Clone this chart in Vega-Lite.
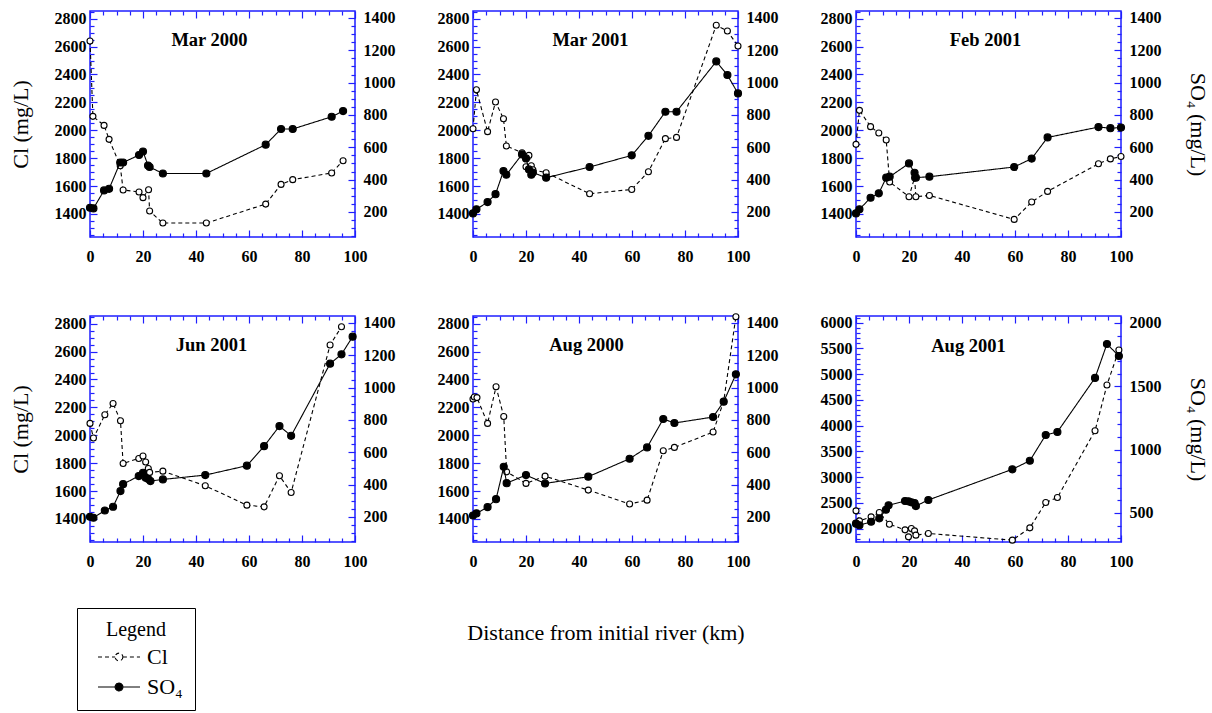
{
  "$schema": "https://vega.github.io/schema/vega-lite/v6.json",
  "padding": {"left": 8, "top": 2, "right": 5, "bottom": 5},
  "background": "white",
  "data": {"values": [
    {"p":"Mar 2000","s":"Cl","km":0,"v":2640},{"p":"Mar 2000","s":"Cl","km":1.1,"v":2100},{"p":"Mar 2000","s":"Cl","km":5.3,"v":2035},{"p":"Mar 2000","s":"Cl","km":7.2,"v":1935},{"p":"Mar 2000","s":"Cl","km":11.4,"v":1746},{"p":"Mar 2000","s":"Cl","km":12.5,"v":1572},{"p":"Mar 2000","s":"Cl","km":18.5,"v":1558},{"p":"Mar 2000","s":"Cl","km":20,"v":1517},{"p":"Mar 2000","s":"Cl","km":22.1,"v":1574},{"p":"Mar 2000","s":"Cl","km":22.5,"v":1421},{"p":"Mar 2000","s":"Cl","km":27.5,"v":1335},{"p":"Mar 2000","s":"Cl","km":43.9,"v":1335},{"p":"Mar 2000","s":"Cl","km":66.3,"v":1471},{"p":"Mar 2000","s":"Cl","km":72.1,"v":1612},{"p":"Mar 2000","s":"Cl","km":76.5,"v":1646},{"p":"Mar 2000","s":"Cl","km":91.2,"v":1694},{"p":"Mar 2000","s":"Cl","km":95.5,"v":1782},
    {"p":"Mar 2000","s":"SO₄","km":0,"v":226},{"p":"Mar 2000","s":"SO₄","km":1.3,"v":222},{"p":"Mar 2000","s":"SO₄","km":5.3,"v":333},{"p":"Mar 2000","s":"SO₄","km":7.2,"v":343},{"p":"Mar 2000","s":"SO₄","km":11.4,"v":506},{"p":"Mar 2000","s":"SO₄","km":12.5,"v":506},{"p":"Mar 2000","s":"SO₄","km":18.5,"v":552},{"p":"Mar 2000","s":"SO₄","km":20,"v":574},{"p":"Mar 2000","s":"SO₄","km":21.9,"v":487},{"p":"Mar 2000","s":"SO₄","km":22.5,"v":478},{"p":"Mar 2000","s":"SO₄","km":27.5,"v":438},{"p":"Mar 2000","s":"SO₄","km":43.9,"v":438},{"p":"Mar 2000","s":"SO₄","km":66.3,"v":616},{"p":"Mar 2000","s":"SO₄","km":72.1,"v":713},{"p":"Mar 2000","s":"SO₄","km":76.5,"v":713},{"p":"Mar 2000","s":"SO₄","km":91.2,"v":789},{"p":"Mar 2000","s":"SO₄","km":95.5,"v":824},
    {"p":"Mar 2001","s":"Cl","km":0,"v":2011},{"p":"Mar 2001","s":"Cl","km":1.3,"v":2290},{"p":"Mar 2001","s":"Cl","km":5.5,"v":1990},{"p":"Mar 2001","s":"Cl","km":8.5,"v":2203},{"p":"Mar 2001","s":"Cl","km":11.5,"v":2083},{"p":"Mar 2001","s":"Cl","km":12.6,"v":1887},{"p":"Mar 2001","s":"Cl","km":18.5,"v":1839},{"p":"Mar 2001","s":"Cl","km":20,"v":1739},{"p":"Mar 2001","s":"Cl","km":21.1,"v":1820},{"p":"Mar 2001","s":"Cl","km":22,"v":1746},{"p":"Mar 2001","s":"Cl","km":22.6,"v":1717},{"p":"Mar 2001","s":"Cl","km":27.6,"v":1696},{"p":"Mar 2001","s":"Cl","km":44,"v":1545},{"p":"Mar 2001","s":"Cl","km":59.9,"v":1576},{"p":"Mar 2001","s":"Cl","km":66.2,"v":1703},{"p":"Mar 2001","s":"Cl","km":72.6,"v":1940},{"p":"Mar 2001","s":"Cl","km":76.8,"v":1949},{"p":"Mar 2001","s":"Cl","km":91.8,"v":2753},{"p":"Mar 2001","s":"Cl","km":96,"v":2712},{"p":"Mar 2001","s":"Cl","km":100,"v":2604},
    {"p":"Mar 2001","s":"SO₄","km":0,"v":191},{"p":"Mar 2001","s":"SO₄","km":1.3,"v":216},{"p":"Mar 2001","s":"SO₄","km":5.5,"v":261},{"p":"Mar 2001","s":"SO₄","km":8.5,"v":310},{"p":"Mar 2001","s":"SO₄","km":11.5,"v":453},{"p":"Mar 2001","s":"SO₄","km":12.6,"v":430},{"p":"Mar 2001","s":"SO₄","km":18.5,"v":556},{"p":"Mar 2001","s":"SO₄","km":20,"v":531},{"p":"Mar 2001","s":"SO₄","km":21.1,"v":463},{"p":"Mar 2001","s":"SO₄","km":22,"v":430},{"p":"Mar 2001","s":"SO₄","km":22.6,"v":444},{"p":"Mar 2001","s":"SO₄","km":27.6,"v":412},{"p":"Mar 2001","s":"SO₄","km":44,"v":478},{"p":"Mar 2001","s":"SO₄","km":59.9,"v":550},{"p":"Mar 2001","s":"SO₄","km":66.2,"v":671},{"p":"Mar 2001","s":"SO₄","km":72.6,"v":820},{"p":"Mar 2001","s":"SO₄","km":76.8,"v":820},{"p":"Mar 2001","s":"SO₄","km":91.8,"v":1131},{"p":"Mar 2001","s":"SO₄","km":96,"v":1047},{"p":"Mar 2001","s":"SO₄","km":100,"v":933},
    {"p":"Feb 2001","s":"Cl","km":0,"v":1899},{"p":"Feb 2001","s":"Cl","km":1.3,"v":2143},{"p":"Feb 2001","s":"Cl","km":5.5,"v":2026},{"p":"Feb 2001","s":"Cl","km":8.6,"v":1980},{"p":"Feb 2001","s":"Cl","km":11.4,"v":1930},{"p":"Feb 2001","s":"Cl","km":12.7,"v":1629},{"p":"Feb 2001","s":"Cl","km":20,"v":1524},{"p":"Feb 2001","s":"Cl","km":22.1,"v":1660},{"p":"Feb 2001","s":"Cl","km":22.6,"v":1524},{"p":"Feb 2001","s":"Cl","km":27.7,"v":1533},{"p":"Feb 2001","s":"Cl","km":59.7,"v":1361},{"p":"Feb 2001","s":"Cl","km":66.3,"v":1486},{"p":"Feb 2001","s":"Cl","km":72.3,"v":1562},{"p":"Feb 2001","s":"Cl","km":91.5,"v":1760},{"p":"Feb 2001","s":"Cl","km":96,"v":1795},{"p":"Feb 2001","s":"Cl","km":100,"v":1812},
    {"p":"Feb 2001","s":"SO₄","km":0,"v":191},{"p":"Feb 2001","s":"SO₄","km":1.3,"v":216},{"p":"Feb 2001","s":"SO₄","km":5.5,"v":288},{"p":"Feb 2001","s":"SO₄","km":8.6,"v":315},{"p":"Feb 2001","s":"SO₄","km":11.4,"v":412},{"p":"Feb 2001","s":"SO₄","km":12.7,"v":418},{"p":"Feb 2001","s":"SO₄","km":20,"v":500},{"p":"Feb 2001","s":"SO₄","km":22.1,"v":442},{"p":"Feb 2001","s":"SO₄","km":22.6,"v":412},{"p":"Feb 2001","s":"SO₄","km":27.7,"v":418},{"p":"Feb 2001","s":"SO₄","km":59.7,"v":478},{"p":"Feb 2001","s":"SO₄","km":66.3,"v":530},{"p":"Feb 2001","s":"SO₄","km":72.3,"v":661},{"p":"Feb 2001","s":"SO₄","km":91.5,"v":725},{"p":"Feb 2001","s":"SO₄","km":96,"v":718},{"p":"Feb 2001","s":"SO₄","km":100,"v":722},
    {"p":"Jun 2001","s":"Cl","km":0,"v":2085},{"p":"Jun 2001","s":"Cl","km":1.3,"v":1980},{"p":"Jun 2001","s":"Cl","km":5.6,"v":2147},{"p":"Jun 2001","s":"Cl","km":8.7,"v":2228},{"p":"Jun 2001","s":"Cl","km":11.5,"v":2104},{"p":"Jun 2001","s":"Cl","km":12.5,"v":1798},{"p":"Jun 2001","s":"Cl","km":18.4,"v":1834},{"p":"Jun 2001","s":"Cl","km":20,"v":1851},{"p":"Jun 2001","s":"Cl","km":21,"v":1808},{"p":"Jun 2001","s":"Cl","km":22,"v":1762},{"p":"Jun 2001","s":"Cl","km":22.5,"v":1734},{"p":"Jun 2001","s":"Cl","km":27.5,"v":1743},{"p":"Jun 2001","s":"Cl","km":43.5,"v":1638},{"p":"Jun 2001","s":"Cl","km":59.2,"v":1499},{"p":"Jun 2001","s":"Cl","km":65.7,"v":1487},{"p":"Jun 2001","s":"Cl","km":71.5,"v":1710},{"p":"Jun 2001","s":"Cl","km":75.9,"v":1590},{"p":"Jun 2001","s":"Cl","km":90.6,"v":2647},{"p":"Jun 2001","s":"Cl","km":94.9,"v":2778},
    {"p":"Jun 2001","s":"SO₄","km":0,"v":201},{"p":"Jun 2001","s":"SO₄","km":1.3,"v":195},{"p":"Jun 2001","s":"SO₄","km":5.6,"v":240},{"p":"Jun 2001","s":"SO₄","km":8.7,"v":263},{"p":"Jun 2001","s":"SO₄","km":11.5,"v":360},{"p":"Jun 2001","s":"SO₄","km":12.5,"v":403},{"p":"Jun 2001","s":"SO₄","km":18.4,"v":453},{"p":"Jun 2001","s":"SO₄","km":20,"v":473},{"p":"Jun 2001","s":"SO₄","km":21,"v":442},{"p":"Jun 2001","s":"SO₄","km":22,"v":434},{"p":"Jun 2001","s":"SO₄","km":22.8,"v":422},{"p":"Jun 2001","s":"SO₄","km":27.5,"v":432},{"p":"Jun 2001","s":"SO₄","km":43.5,"v":459},{"p":"Jun 2001","s":"SO₄","km":59.2,"v":517},{"p":"Jun 2001","s":"SO₄","km":65.7,"v":638},{"p":"Jun 2001","s":"SO₄","km":71.5,"v":762},{"p":"Jun 2001","s":"SO₄","km":75.9,"v":702},{"p":"Jun 2001","s":"SO₄","km":90.6,"v":1148},{"p":"Jun 2001","s":"SO₄","km":94.9,"v":1206},{"p":"Jun 2001","s":"SO₄","km":99.1,"v":1315},
    {"p":"Aug 2000","s":"Cl","km":0,"v":2260},{"p":"Aug 2000","s":"Cl","km":0.5,"v":2274},{"p":"Aug 2000","s":"Cl","km":1.5,"v":2270},{"p":"Aug 2000","s":"Cl","km":5.5,"v":2085},{"p":"Aug 2000","s":"Cl","km":8.7,"v":2348},{"p":"Aug 2000","s":"Cl","km":11.6,"v":2135},{"p":"Aug 2000","s":"Cl","km":12.7,"v":1738},{"p":"Aug 2000","s":"Cl","km":20,"v":1655},{"p":"Aug 2000","s":"Cl","km":27.2,"v":1707},{"p":"Aug 2000","s":"Cl","km":43.5,"v":1607},{"p":"Aug 2000","s":"Cl","km":59.1,"v":1507},{"p":"Aug 2000","s":"Cl","km":65.7,"v":1535},{"p":"Aug 2000","s":"Cl","km":71.8,"v":1889},{"p":"Aug 2000","s":"Cl","km":76,"v":1913},{"p":"Aug 2000","s":"Cl","km":90.6,"v":2023},{"p":"Aug 2000","s":"Cl","km":94.6,"v":2243},{"p":"Aug 2000","s":"Cl","km":99.2,"v":2850},
    {"p":"Aug 2000","s":"SO₄","km":0,"v":209},{"p":"Aug 2000","s":"SO₄","km":1.3,"v":222},{"p":"Aug 2000","s":"SO₄","km":5.5,"v":261},{"p":"Aug 2000","s":"SO₄","km":8.7,"v":310},{"p":"Aug 2000","s":"SO₄","km":11.6,"v":510},{"p":"Aug 2000","s":"SO₄","km":12.7,"v":409},{"p":"Aug 2000","s":"SO₄","km":20,"v":459},{"p":"Aug 2000","s":"SO₄","km":27.2,"v":407},{"p":"Aug 2000","s":"SO₄","km":43.5,"v":449},{"p":"Aug 2000","s":"SO₄","km":59.1,"v":560},{"p":"Aug 2000","s":"SO₄","km":65.7,"v":630},{"p":"Aug 2000","s":"SO₄","km":71.8,"v":806},{"p":"Aug 2000","s":"SO₄","km":76,"v":781},{"p":"Aug 2000","s":"SO₄","km":90.6,"v":818},{"p":"Aug 2000","s":"SO₄","km":94.6,"v":913},{"p":"Aug 2000","s":"SO₄","km":99.2,"v":1082},
    {"p":"Aug 2001","s":"Cl","km":0,"v":2345},{"p":"Aug 2001","s":"Cl","km":1.3,"v":2151},{"p":"Aug 2001","s":"Cl","km":5.7,"v":2229},{"p":"Aug 2001","s":"Cl","km":8.8,"v":2313},{"p":"Aug 2001","s":"Cl","km":12.6,"v":2086},{"p":"Aug 2001","s":"Cl","km":18.5,"v":1976},{"p":"Aug 2001","s":"Cl","km":19.8,"v":1840},{"p":"Aug 2001","s":"Cl","km":20.9,"v":2002},{"p":"Aug 2001","s":"Cl","km":22.1,"v":1957},{"p":"Aug 2001","s":"Cl","km":22.6,"v":1873},{"p":"Aug 2001","s":"Cl","km":27.3,"v":1905},{"p":"Aug 2001","s":"Cl","km":59,"v":1776},{"p":"Aug 2001","s":"Cl","km":65.6,"v":2015},{"p":"Aug 2001","s":"Cl","km":71.6,"v":2507},{"p":"Aug 2001","s":"Cl","km":76,"v":2604},{"p":"Aug 2001","s":"Cl","km":90.2,"v":3900},{"p":"Aug 2001","s":"Cl","km":94.7,"v":4790},{"p":"Aug 2001","s":"Cl","km":99.2,"v":5470},
    {"p":"Aug 2001","s":"SO₄","km":0,"v":415},{"p":"Aug 2001","s":"SO₄","km":1.3,"v":402},{"p":"Aug 2001","s":"SO₄","km":5.7,"v":430},{"p":"Aug 2001","s":"SO₄","km":8.8,"v":457},{"p":"Aug 2001","s":"SO₄","km":11.3,"v":525},{"p":"Aug 2001","s":"SO₄","km":12.3,"v":560},{"p":"Aug 2001","s":"SO₄","km":18.5,"v":594},{"p":"Aug 2001","s":"SO₄","km":19.8,"v":591},{"p":"Aug 2001","s":"SO₄","km":20.9,"v":583},{"p":"Aug 2001","s":"SO₄","km":22.1,"v":578},{"p":"Aug 2001","s":"SO₄","km":22.6,"v":554},{"p":"Aug 2001","s":"SO₄","km":27.3,"v":602},{"p":"Aug 2001","s":"SO₄","km":59,"v":844},{"p":"Aug 2001","s":"SO₄","km":65.6,"v":912},{"p":"Aug 2001","s":"SO₄","km":71.6,"v":1115},{"p":"Aug 2001","s":"SO₄","km":76,"v":1139},{"p":"Aug 2001","s":"SO₄","km":90.2,"v":1566},{"p":"Aug 2001","s":"SO₄","km":94.7,"v":1834},{"p":"Aug 2001","s":"SO₄","km":99.2,"v":1739}
  ]},
  "columns": 3,
  "spacing": {"row": 79, "column": 118},
  "bounds": "flush",
  "concat": [
    {
      "width": 265, "height": 226,
      "title": {"text": "Mar 2000", "dx": -13},
      "transform": [{"filter": "datum.p === 'Mar 2000'"}],
      "layer": [
        {"transform": [{"filter": "datum.s === 'Cl'"}], "mark": {"type": "line"},
         "encoding": {
           "x": {"field": "km", "type": "quantitative", "scale": {"domain": [0, 100], "nice": false}, "axis": {"orient": "bottom", "title": null, "format": "d", "values": [0,5,10,15,20,25,30,35,40,45,50,55,60,65,70,75,80,85,90,95,100], "labelExpr": "datum.value % 20 === 0 ? datum.label : ''", "tickSize": {"condition": {"test": "datum.value % 20 === 0", "value": -7}, "value": -4}, "labelPadding": 18}},
           "y": {"field": "v", "type": "quantitative", "scale": {"domain": [1235, 2855], "nice": false, "zero": false}, "axis": {"orient": "left", "title": "Cl (mg/L)", "titlePadding": 22, "format": "d", "values": [1250,1300,1350,1400,1450,1500,1550,1600,1650,1700,1750,1800,1850,1900,1950,2000,2050,2100,2150,2200,2250,2300,2350,2400,2450,2500,2550,2600,2650,2700,2750,2800,2850], "labelExpr": "datum.value % 200 === 0 ? datum.label : ''", "tickSize": {"condition": {"test": "datum.value % 200 === 0", "value": -7}, "value": -4}, "labelPadding": 11}},
           "strokeDash": {"field": "s", "type": "nominal", "scale": {"domain": ["Cl", "SO₄"], "range": [[4, 3], [1, 0]]}}
         }},
        {"transform": [{"filter": "datum.s === 'Cl'"}], "mark": {"type": "point", "filled": true, "size": 36, "stroke": "black", "strokeWidth": 1.1, "opacity": 1},
         "encoding": {
           "x": {"field": "km", "type": "quantitative", "scale": {"domain": [0, 100], "nice": false}, "axis": null},
           "y": {"field": "v", "type": "quantitative", "scale": {"domain": [1235, 2855], "nice": false, "zero": false}, "axis": null},
           "fill": {"field": "s", "type": "nominal", "scale": {"domain": ["Cl", "SO₄"], "range": ["white", "black"]}}
         }},
        {"transform": [{"filter": "datum.s === 'SO₄'"}], "mark": {"type": "line"},
         "encoding": {
           "x": {"field": "km", "type": "quantitative", "scale": {"domain": [0, 100], "nice": false}, "axis": {"orient": "top", "title": null, "labels": false, "values": [0,5,10,15,20,25,30,35,40,45,50,55,60,65,70,75,80,85,90,95,100], "tickSize": {"condition": {"test": "datum.value % 20 === 0", "value": -7}, "value": -4}}},
           "y": {"field": "v", "type": "quantitative", "scale": {"domain": [45, 1443], "nice": false, "zero": false}, "axis": {"orient": "right", "title": null, "format": "d", "values": [50,100,150,200,250,300,350,400,450,500,550,600,650,700,750,800,850,900,950,1000,1050,1100,1150,1200,1250,1300,1350,1400], "labelExpr": "datum.value % 200 === 0 ? datum.label : ''", "tickSize": {"condition": {"test": "datum.value % 200 === 0", "value": -7}, "value": -4}, "labelPadding": 15}},
           "strokeDash": {"field": "s", "type": "nominal", "scale": {"domain": ["Cl", "SO₄"], "range": [[4, 3], [1, 0]]}}
         }},
        {"transform": [{"filter": "datum.s === 'SO₄'"}], "mark": {"type": "point", "filled": true, "size": 50, "stroke": "black", "strokeWidth": 1.1, "opacity": 1},
         "encoding": {
           "x": {"field": "km", "type": "quantitative", "scale": {"domain": [0, 100], "nice": false}, "axis": null},
           "y": {"field": "v", "type": "quantitative", "scale": {"domain": [45, 1443], "nice": false, "zero": false}, "axis": null},
           "fill": {"field": "s", "type": "nominal", "scale": {"domain": ["Cl", "SO₄"], "range": ["white", "black"]}}
         }}
      ],
      "resolve": {"scale": {"y": "independent"}, "axis": {"x": "independent", "y": "independent"}}
    },
    {
      "width": 265, "height": 226,
      "title": {"text": "Mar 2001", "dx": -15},
      "transform": [{"filter": "datum.p === 'Mar 2001'"}],
      "layer": [
        {"transform": [{"filter": "datum.s === 'Cl'"}], "mark": {"type": "line"},
         "encoding": {
           "x": {"field": "km", "type": "quantitative", "scale": {"domain": [0, 100], "nice": false}, "axis": {"orient": "bottom", "title": null, "format": "d", "values": [0,5,10,15,20,25,30,35,40,45,50,55,60,65,70,75,80,85,90,95,100], "labelExpr": "datum.value % 20 === 0 ? datum.label : ''", "tickSize": {"condition": {"test": "datum.value % 20 === 0", "value": -7}, "value": -4}, "labelPadding": 18}},
           "y": {"field": "v", "type": "quantitative", "scale": {"domain": [1235, 2855], "nice": false, "zero": false}, "axis": {"orient": "left", "title": null, "format": "d", "values": [1250,1300,1350,1400,1450,1500,1550,1600,1650,1700,1750,1800,1850,1900,1950,2000,2050,2100,2150,2200,2250,2300,2350,2400,2450,2500,2550,2600,2650,2700,2750,2800,2850], "labelExpr": "datum.value % 200 === 0 ? datum.label : ''", "tickSize": {"condition": {"test": "datum.value % 200 === 0", "value": -7}, "value": -4}, "labelPadding": 11}},
           "strokeDash": {"field": "s", "type": "nominal", "scale": {"domain": ["Cl", "SO₄"], "range": [[4, 3], [1, 0]]}}
         }},
        {"transform": [{"filter": "datum.s === 'Cl'"}], "mark": {"type": "point", "filled": true, "size": 36, "stroke": "black", "strokeWidth": 1.1, "opacity": 1},
         "encoding": {
           "x": {"field": "km", "type": "quantitative", "scale": {"domain": [0, 100], "nice": false}, "axis": null},
           "y": {"field": "v", "type": "quantitative", "scale": {"domain": [1235, 2855], "nice": false, "zero": false}, "axis": null},
           "fill": {"field": "s", "type": "nominal", "scale": {"domain": ["Cl", "SO₄"], "range": ["white", "black"]}}
         }},
        {"transform": [{"filter": "datum.s === 'SO₄'"}], "mark": {"type": "line"},
         "encoding": {
           "x": {"field": "km", "type": "quantitative", "scale": {"domain": [0, 100], "nice": false}, "axis": {"orient": "top", "title": null, "labels": false, "values": [0,5,10,15,20,25,30,35,40,45,50,55,60,65,70,75,80,85,90,95,100], "tickSize": {"condition": {"test": "datum.value % 20 === 0", "value": -7}, "value": -4}}},
           "y": {"field": "v", "type": "quantitative", "scale": {"domain": [45, 1443], "nice": false, "zero": false}, "axis": {"orient": "right", "title": null, "format": "d", "values": [50,100,150,200,250,300,350,400,450,500,550,600,650,700,750,800,850,900,950,1000,1050,1100,1150,1200,1250,1300,1350,1400], "labelExpr": "datum.value % 200 === 0 ? datum.label : ''", "tickSize": {"condition": {"test": "datum.value % 200 === 0", "value": -7}, "value": -4}, "labelPadding": 15}},
           "strokeDash": {"field": "s", "type": "nominal", "scale": {"domain": ["Cl", "SO₄"], "range": [[4, 3], [1, 0]]}}
         }},
        {"transform": [{"filter": "datum.s === 'SO₄'"}], "mark": {"type": "point", "filled": true, "size": 50, "stroke": "black", "strokeWidth": 1.1, "opacity": 1},
         "encoding": {
           "x": {"field": "km", "type": "quantitative", "scale": {"domain": [0, 100], "nice": false}, "axis": null},
           "y": {"field": "v", "type": "quantitative", "scale": {"domain": [45, 1443], "nice": false, "zero": false}, "axis": null},
           "fill": {"field": "s", "type": "nominal", "scale": {"domain": ["Cl", "SO₄"], "range": ["white", "black"]}}
         }}
      ],
      "resolve": {"scale": {"y": "independent"}, "axis": {"x": "independent", "y": "independent"}}
    },
    {
      "width": 265, "height": 226,
      "title": {"text": "Feb 2001", "dx": -3},
      "transform": [{"filter": "datum.p === 'Feb 2001'"}],
      "layer": [
        {"transform": [{"filter": "datum.s === 'Cl'"}], "mark": {"type": "line"},
         "encoding": {
           "x": {"field": "km", "type": "quantitative", "scale": {"domain": [0, 100], "nice": false}, "axis": {"orient": "bottom", "title": null, "format": "d", "values": [0,5,10,15,20,25,30,35,40,45,50,55,60,65,70,75,80,85,90,95,100], "labelExpr": "datum.value % 20 === 0 ? datum.label : ''", "tickSize": {"condition": {"test": "datum.value % 20 === 0", "value": -7}, "value": -4}, "labelPadding": 18}},
           "y": {"field": "v", "type": "quantitative", "scale": {"domain": [1235, 2855], "nice": false, "zero": false}, "axis": {"orient": "left", "title": null, "format": "d", "values": [1250,1300,1350,1400,1450,1500,1550,1600,1650,1700,1750,1800,1850,1900,1950,2000,2050,2100,2150,2200,2250,2300,2350,2400,2450,2500,2550,2600,2650,2700,2750,2800,2850], "labelExpr": "datum.value % 200 === 0 ? datum.label : ''", "tickSize": {"condition": {"test": "datum.value % 200 === 0", "value": -7}, "value": -4}, "labelPadding": 11}},
           "strokeDash": {"field": "s", "type": "nominal", "scale": {"domain": ["Cl", "SO₄"], "range": [[4, 3], [1, 0]]}}
         }},
        {"transform": [{"filter": "datum.s === 'Cl'"}], "mark": {"type": "point", "filled": true, "size": 36, "stroke": "black", "strokeWidth": 1.1, "opacity": 1},
         "encoding": {
           "x": {"field": "km", "type": "quantitative", "scale": {"domain": [0, 100], "nice": false}, "axis": null},
           "y": {"field": "v", "type": "quantitative", "scale": {"domain": [1235, 2855], "nice": false, "zero": false}, "axis": null},
           "fill": {"field": "s", "type": "nominal", "scale": {"domain": ["Cl", "SO₄"], "range": ["white", "black"]}}
         }},
        {"transform": [{"filter": "datum.s === 'SO₄'"}], "mark": {"type": "line"},
         "encoding": {
           "x": {"field": "km", "type": "quantitative", "scale": {"domain": [0, 100], "nice": false}, "axis": {"orient": "top", "title": null, "labels": false, "values": [0,5,10,15,20,25,30,35,40,45,50,55,60,65,70,75,80,85,90,95,100], "tickSize": {"condition": {"test": "datum.value % 20 === 0", "value": -7}, "value": -4}}},
           "y": {"field": "v", "type": "quantitative", "scale": {"domain": [45, 1443], "nice": false, "zero": false}, "axis": {"orient": "right", "title": "SO₄ (mg/L)", "titlePadding": 24, "format": "d", "values": [50,100,150,200,250,300,350,400,450,500,550,600,650,700,750,800,850,900,950,1000,1050,1100,1150,1200,1250,1300,1350,1400], "labelExpr": "datum.value % 200 === 0 ? datum.label : ''", "tickSize": {"condition": {"test": "datum.value % 200 === 0", "value": -7}, "value": -4}, "labelPadding": 15}},
           "strokeDash": {"field": "s", "type": "nominal", "scale": {"domain": ["Cl", "SO₄"], "range": [[4, 3], [1, 0]]}}
         }},
        {"transform": [{"filter": "datum.s === 'SO₄'"}], "mark": {"type": "point", "filled": true, "size": 50, "stroke": "black", "strokeWidth": 1.1, "opacity": 1},
         "encoding": {
           "x": {"field": "km", "type": "quantitative", "scale": {"domain": [0, 100], "nice": false}, "axis": null},
           "y": {"field": "v", "type": "quantitative", "scale": {"domain": [45, 1443], "nice": false, "zero": false}, "axis": null},
           "fill": {"field": "s", "type": "nominal", "scale": {"domain": ["Cl", "SO₄"], "range": ["white", "black"]}}
         }}
      ],
      "resolve": {"scale": {"y": "independent"}, "axis": {"x": "independent", "y": "independent"}}
    },
    {
      "width": 265, "height": 226,
      "title": {"text": "Jun 2001", "dx": -11},
      "transform": [{"filter": "datum.p === 'Jun 2001'"}],
      "layer": [
        {"transform": [{"filter": "datum.s === 'Cl'"}], "mark": {"type": "line"},
         "encoding": {
           "x": {"field": "km", "type": "quantitative", "scale": {"domain": [0, 100], "nice": false}, "axis": {"orient": "bottom", "title": null, "format": "d", "values": [0,5,10,15,20,25,30,35,40,45,50,55,60,65,70,75,80,85,90,95,100], "labelExpr": "datum.value % 20 === 0 ? datum.label : ''", "tickSize": {"condition": {"test": "datum.value % 20 === 0", "value": -7}, "value": -4}, "labelPadding": 18}},
           "y": {"field": "v", "type": "quantitative", "scale": {"domain": [1235, 2855], "nice": false, "zero": false}, "axis": {"orient": "left", "title": "Cl (mg/L)", "titlePadding": 22, "format": "d", "values": [1250,1300,1350,1400,1450,1500,1550,1600,1650,1700,1750,1800,1850,1900,1950,2000,2050,2100,2150,2200,2250,2300,2350,2400,2450,2500,2550,2600,2650,2700,2750,2800,2850], "labelExpr": "datum.value % 200 === 0 ? datum.label : ''", "tickSize": {"condition": {"test": "datum.value % 200 === 0", "value": -7}, "value": -4}, "labelPadding": 11}},
           "strokeDash": {"field": "s", "type": "nominal", "title": "Legend", "scale": {"domain": ["Cl", "SO₄"], "range": [[4, 3], [1, 0]]},
             "legend": {"orient": "none", "legendX": -13, "legendY": 597, "direction": "vertical", "padding": 12, "strokeColor": "black", "titleFont": "Liberation Serif", "titleFontSize": 20, "titleFontWeight": "normal", "titleColor": "black", "titlePadding": 6, "titleAnchor": "middle", "labelFont": "Liberation Serif", "labelFontSize": 22, "labelColor": "black", "labelOffset": 17, "symbolOffset": 19, "symbolSize": 144, "symbolStrokeWidth": 1.3, "symbolStrokeColor": "black", "rowPadding": 8, "symbolType": "M-3.5,0H-0.65M0.65,0H3.5M0.65,0A0.65,0.65 0 1,1 -0.65,0A0.65,0.65 0 1,1 0.65,0Z"}}
         }},
        {"transform": [{"filter": "datum.s === 'Cl'"}], "mark": {"type": "point", "filled": true, "size": 36, "stroke": "black", "strokeWidth": 1.1, "opacity": 1},
         "encoding": {
           "x": {"field": "km", "type": "quantitative", "scale": {"domain": [0, 100], "nice": false}, "axis": null},
           "y": {"field": "v", "type": "quantitative", "scale": {"domain": [1235, 2855], "nice": false, "zero": false}, "axis": null},
           "fill": {"field": "s", "type": "nominal", "title": "Legend", "scale": {"domain": ["Cl", "SO₄"], "range": ["white", "black"]},
             "legend": {"orient": "none", "legendX": -13, "legendY": 597, "direction": "vertical", "padding": 12, "strokeColor": "black", "titleFont": "Liberation Serif", "titleFontSize": 20, "titleFontWeight": "normal", "titleColor": "black", "titlePadding": 6, "titleAnchor": "middle", "labelFont": "Liberation Serif", "labelFontSize": 22, "labelColor": "black", "labelOffset": 17, "symbolOffset": 19, "symbolSize": 144, "symbolStrokeWidth": 1.3, "symbolStrokeColor": "black", "rowPadding": 8, "symbolType": "M-3.5,0H-0.65M0.65,0H3.5M0.65,0A0.65,0.65 0 1,1 -0.65,0A0.65,0.65 0 1,1 0.65,0Z"}}
         }},
        {"transform": [{"filter": "datum.s === 'SO₄'"}], "mark": {"type": "line"},
         "encoding": {
           "x": {"field": "km", "type": "quantitative", "scale": {"domain": [0, 100], "nice": false}, "axis": {"orient": "top", "title": null, "labels": false, "values": [0,5,10,15,20,25,30,35,40,45,50,55,60,65,70,75,80,85,90,95,100], "tickSize": {"condition": {"test": "datum.value % 20 === 0", "value": -7}, "value": -4}}},
           "y": {"field": "v", "type": "quantitative", "scale": {"domain": [45, 1443], "nice": false, "zero": false}, "axis": {"orient": "right", "title": null, "format": "d", "values": [50,100,150,200,250,300,350,400,450,500,550,600,650,700,750,800,850,900,950,1000,1050,1100,1150,1200,1250,1300,1350,1400], "labelExpr": "datum.value % 200 === 0 ? datum.label : ''", "tickSize": {"condition": {"test": "datum.value % 200 === 0", "value": -7}, "value": -4}, "labelPadding": 15}},
           "strokeDash": {"field": "s", "type": "nominal", "title": "Legend", "scale": {"domain": ["Cl", "SO₄"], "range": [[4, 3], [1, 0]]}}
         }},
        {"transform": [{"filter": "datum.s === 'SO₄'"}], "mark": {"type": "point", "filled": true, "size": 50, "stroke": "black", "strokeWidth": 1.1, "opacity": 1},
         "encoding": {
           "x": {"field": "km", "type": "quantitative", "scale": {"domain": [0, 100], "nice": false}, "axis": null},
           "y": {"field": "v", "type": "quantitative", "scale": {"domain": [45, 1443], "nice": false, "zero": false}, "axis": null},
           "fill": {"field": "s", "type": "nominal", "title": "Legend", "scale": {"domain": ["Cl", "SO₄"], "range": ["white", "black"]}}
         }}
      ],
      "resolve": {"scale": {"y": "independent"}, "axis": {"x": "independent", "y": "independent"}}
    },
    {
      "width": 265, "height": 226,
      "title": {"text": "Aug 2000", "dx": -19},
      "transform": [{"filter": "datum.p === 'Aug 2000'"}],
      "layer": [
        {"transform": [{"filter": "datum.s === 'Cl'"}], "mark": {"type": "line"},
         "encoding": {
           "x": {"field": "km", "type": "quantitative", "scale": {"domain": [0, 100], "nice": false}, "axis": {"orient": "bottom", "title": "Distance from initial river (km)", "titlePadding": 50, "format": "d", "values": [0,5,10,15,20,25,30,35,40,45,50,55,60,65,70,75,80,85,90,95,100], "labelExpr": "datum.value % 20 === 0 ? datum.label : ''", "tickSize": {"condition": {"test": "datum.value % 20 === 0", "value": -7}, "value": -4}, "labelPadding": 18}},
           "y": {"field": "v", "type": "quantitative", "scale": {"domain": [1235, 2855], "nice": false, "zero": false}, "axis": {"orient": "left", "title": null, "format": "d", "values": [1250,1300,1350,1400,1450,1500,1550,1600,1650,1700,1750,1800,1850,1900,1950,2000,2050,2100,2150,2200,2250,2300,2350,2400,2450,2500,2550,2600,2650,2700,2750,2800,2850], "labelExpr": "datum.value % 200 === 0 ? datum.label : ''", "tickSize": {"condition": {"test": "datum.value % 200 === 0", "value": -7}, "value": -4}, "labelPadding": 11}},
           "strokeDash": {"field": "s", "type": "nominal", "scale": {"domain": ["Cl", "SO₄"], "range": [[4, 3], [1, 0]]}}
         }},
        {"transform": [{"filter": "datum.s === 'Cl'"}], "mark": {"type": "point", "filled": true, "size": 36, "stroke": "black", "strokeWidth": 1.1, "opacity": 1},
         "encoding": {
           "x": {"field": "km", "type": "quantitative", "scale": {"domain": [0, 100], "nice": false}, "axis": null},
           "y": {"field": "v", "type": "quantitative", "scale": {"domain": [1235, 2855], "nice": false, "zero": false}, "axis": null},
           "fill": {"field": "s", "type": "nominal", "scale": {"domain": ["Cl", "SO₄"], "range": ["white", "black"]}}
         }},
        {"transform": [{"filter": "datum.s === 'SO₄'"}], "mark": {"type": "line"},
         "encoding": {
           "x": {"field": "km", "type": "quantitative", "scale": {"domain": [0, 100], "nice": false}, "axis": {"orient": "top", "title": null, "labels": false, "values": [0,5,10,15,20,25,30,35,40,45,50,55,60,65,70,75,80,85,90,95,100], "tickSize": {"condition": {"test": "datum.value % 20 === 0", "value": -7}, "value": -4}}},
           "y": {"field": "v", "type": "quantitative", "scale": {"domain": [45, 1443], "nice": false, "zero": false}, "axis": {"orient": "right", "title": null, "format": "d", "values": [50,100,150,200,250,300,350,400,450,500,550,600,650,700,750,800,850,900,950,1000,1050,1100,1150,1200,1250,1300,1350,1400], "labelExpr": "datum.value % 200 === 0 ? datum.label : ''", "tickSize": {"condition": {"test": "datum.value % 200 === 0", "value": -7}, "value": -4}, "labelPadding": 15}},
           "strokeDash": {"field": "s", "type": "nominal", "scale": {"domain": ["Cl", "SO₄"], "range": [[4, 3], [1, 0]]}}
         }},
        {"transform": [{"filter": "datum.s === 'SO₄'"}], "mark": {"type": "point", "filled": true, "size": 50, "stroke": "black", "strokeWidth": 1.1, "opacity": 1},
         "encoding": {
           "x": {"field": "km", "type": "quantitative", "scale": {"domain": [0, 100], "nice": false}, "axis": null},
           "y": {"field": "v", "type": "quantitative", "scale": {"domain": [45, 1443], "nice": false, "zero": false}, "axis": null},
           "fill": {"field": "s", "type": "nominal", "scale": {"domain": ["Cl", "SO₄"], "range": ["white", "black"]}}
         }}
      ],
      "resolve": {"scale": {"y": "independent"}, "axis": {"x": "independent", "y": "independent"}}
    },
    {
      "width": 265, "height": 226,
      "title": {"text": "Aug 2001", "dx": -20},
      "transform": [{"filter": "datum.p === 'Aug 2001'"}],
      "layer": [
        {"transform": [{"filter": "datum.s === 'Cl'"}], "mark": {"type": "line"},
         "encoding": {
           "x": {"field": "km", "type": "quantitative", "scale": {"domain": [0, 100], "nice": false}, "axis": {"orient": "bottom", "title": null, "format": "d", "values": [0,5,10,15,20,25,30,35,40,45,50,55,60,65,70,75,80,85,90,95,100], "labelExpr": "datum.value % 20 === 0 ? datum.label : ''", "tickSize": {"condition": {"test": "datum.value % 20 === 0", "value": -7}, "value": -4}, "labelPadding": 18}},
           "y": {"field": "v", "type": "quantitative", "scale": {"domain": [1740, 6130], "nice": false, "zero": false}, "axis": {"orient": "left", "title": null, "format": "d", "values": [1800,1900,2000,2100,2200,2300,2400,2500,2600,2700,2800,2900,3000,3100,3200,3300,3400,3500,3600,3700,3800,3900,4000,4100,4200,4300,4400,4500,4600,4700,4800,4900,5000,5100,5200,5300,5400,5500,5600,5700,5800,5900,6000,6100], "labelExpr": "datum.value % 500 === 0 ? datum.label : ''", "tickSize": {"condition": {"test": "datum.value % 500 === 0", "value": -7}, "value": -4}, "labelPadding": 11}},
           "strokeDash": {"field": "s", "type": "nominal", "scale": {"domain": ["Cl", "SO₄"], "range": [[4, 3], [1, 0]]}}
         }},
        {"transform": [{"filter": "datum.s === 'Cl'"}], "mark": {"type": "point", "filled": true, "size": 36, "stroke": "black", "strokeWidth": 1.1, "opacity": 1},
         "encoding": {
           "x": {"field": "km", "type": "quantitative", "scale": {"domain": [0, 100], "nice": false}, "axis": null},
           "y": {"field": "v", "type": "quantitative", "scale": {"domain": [1740, 6130], "nice": false, "zero": false}, "axis": null},
           "fill": {"field": "s", "type": "nominal", "scale": {"domain": ["Cl", "SO₄"], "range": ["white", "black"]}}
         }},
        {"transform": [{"filter": "datum.s === 'SO₄'"}], "mark": {"type": "line"},
         "encoding": {
           "x": {"field": "km", "type": "quantitative", "scale": {"domain": [0, 100], "nice": false}, "axis": {"orient": "top", "title": null, "labels": false, "values": [0,5,10,15,20,25,30,35,40,45,50,55,60,65,70,75,80,85,90,95,100], "tickSize": {"condition": {"test": "datum.value % 20 === 0", "value": -7}, "value": -4}}},
           "y": {"field": "v", "type": "quantitative", "scale": {"domain": [270, 2055], "nice": false, "zero": false}, "axis": {"orient": "right", "title": "SO₄ (mg/L)", "titlePadding": 24, "format": "d", "values": [300,400,500,600,700,800,900,1000,1100,1200,1300,1400,1500,1600,1700,1800,1900,2000], "labelExpr": "datum.value % 500 === 0 ? datum.label : ''", "tickSize": {"condition": {"test": "datum.value % 500 === 0", "value": -7}, "value": -4}, "labelPadding": 15}},
           "strokeDash": {"field": "s", "type": "nominal", "scale": {"domain": ["Cl", "SO₄"], "range": [[4, 3], [1, 0]]}}
         }},
        {"transform": [{"filter": "datum.s === 'SO₄'"}], "mark": {"type": "point", "filled": true, "size": 50, "stroke": "black", "strokeWidth": 1.1, "opacity": 1},
         "encoding": {
           "x": {"field": "km", "type": "quantitative", "scale": {"domain": [0, 100], "nice": false}, "axis": null},
           "y": {"field": "v", "type": "quantitative", "scale": {"domain": [270, 2055], "nice": false, "zero": false}, "axis": null},
           "fill": {"field": "s", "type": "nominal", "scale": {"domain": ["Cl", "SO₄"], "range": ["white", "black"]}}
         }}
      ],
      "resolve": {"scale": {"y": "independent"}, "axis": {"x": "independent", "y": "independent"}}
    }
  ],
  "config": {
    "font": "Liberation Serif",
    "view": {"stroke": "#1f1fff", "strokeWidth": 1.5},
    "axis": {"domain": false, "grid": false, "labelFont": "Liberation Serif", "labelFontSize": 16, "labelFontWeight": "bold", "labelColor": "black", "tickColor": "#1f1fff", "tickWidth": 1.2, "titleFont": "Liberation Serif", "titleFontSize": 22, "titleFontWeight": "normal", "titleColor": "black", "labelOverlap": false, "labelFlush": false, "labelBound": false},
    "title": {"font": "Liberation Serif", "fontSize": 18.5, "fontWeight": "bold", "color": "black", "offset": -46, "baseline": "alphabetic", "anchor": "middle"},
    "line": {"color": "black", "strokeWidth": 1.1}
  }
}
